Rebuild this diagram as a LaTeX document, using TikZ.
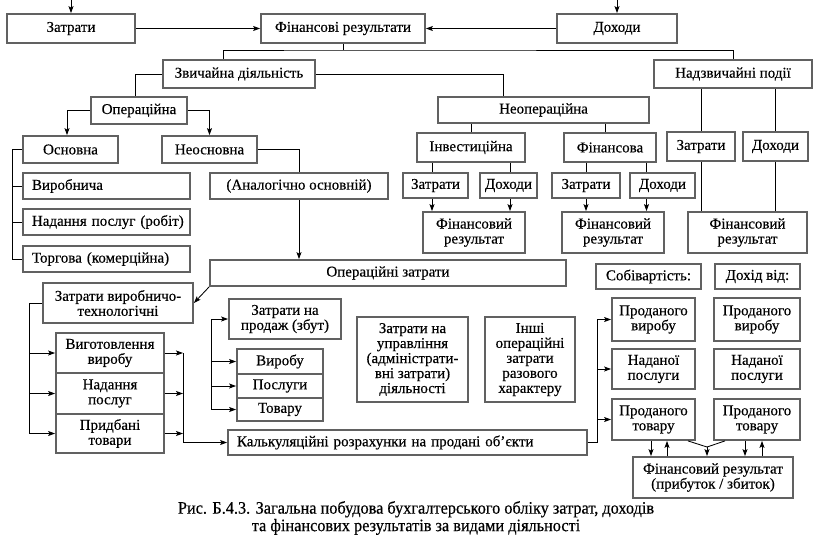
\documentclass[tikz,border=0pt]{standalone}
\usepackage{fontspec}
\setmainfont{Liberation Serif}
\newfontfamily\tms{Liberation Serif}[FakeBold=0.35]
\newfontfamily\tmscap{Liberation Serif}[FakeBold=0.45,FakeStretch=0.93]
\usetikzlibrary{arrows.meta,calc}
\newcommand\fs{\tms\fontsize{15}{15}\selectfont}
\newcommand\bx[7][]{\node[box,minimum width={(#5-#3)*1pt},minimum height={(#6-#4)*1pt},#1] (#2) at ({(#3+#5)/2},{(#4+#6)/2}) {#7};}
\newcommand\lbx[7][]{\node[box,align=left,inner xsep=3pt,text width={(#5-#3-6)*1pt},minimum width={(#5-#3)*1pt},minimum height={(#6-#4)*1pt},#1] (#2) at ({(#3+#5)/2},{(#4+#6)/2}) {\hspace*{6pt}#7};}
\tikzset{
  box/.style={draw=black!62, line width=1.8pt, fill=white, inner sep=0pt, align=center, font=\fs},
  con/.style={line width=0.85pt, draw=black},
  arr/.style={con, -{Stealth[length=7pt,width=5pt,inset=1.5pt]}},
}
\begin{document}
\begin{tikzpicture}[x=1pt,y=-1pt]
\useasboundingbox (0,0) rectangle (816,536);
% boxes
\bx{zt}{7}{14}{135}{43}{Затрати}
\bx{fin}{261}{14}{425}{43}{Фінансові результати}
\bx{dh}{557}{14}{677}{43}{Доходи}
\bx{zv}{163}{60}{315}{88}{Звичайна діяльність}
\bx{nd}{654}{60}{812}{88}{Надзвичайні події}
\bx{op}{91}{97}{187}{124}{Операційна}
\bx{no}{438}{97}{649}{123}{Неопераційна}
\bx{osn}{23}{136}{118}{163}{Основна}
\bx{neo}{162}{136}{257}{163}{Неосновна}
\bx{inv}{417}{133}{525}{162}{Інвестиційна}
\bx{fn}{564}{133}{656}{162}{Фінансова}
\bx{ndz}{667}{132}{735}{161}{Затрати}
\bx{ndd}{743}{132}{808}{161}{Доходи}
\lbx{vyr}{23}{173}{190}{199}{Виробнича}
\bx{an}{210}{173}{388}{199}{(Аналогічно основній)}
\bx{iz}{403}{173}{468}{198}{Затрати}
\bx{id}{480}{173}{537}{198}{Доходи}
\bx{fz}{552}{173}{620}{198}{Затрати}
\bx{fd}{630}{173}{695}{198}{Доходи}
\lbx{nad}{23}{209}{190}{235}{Надання послуг (робіт)}
\bx{ifr}{423}{212}{525}{253}{Фінансовий\\результат}
\bx{ffr}{562}{212}{664}{253}{Фінансовий\\результат}
\bx{nfr}{688}{212}{807}{253}{Фінансовий\\результат}
\lbx{tor}{23}{246}{190}{272}{Торгова (комерційна)}
\bx{oz}{210}{260}{566}{286}{Операційні затрати}
\bx{sob}{596}{264}{701}{289}{Собівартість:}
\bx{dv}{715}{264}{800}{289}{Дохід від:}
\bx{zvt}{43}{283}{193}{323}{Затрати виробничо-\\технологічні}
\bx{zp}{229}{299}{341}{339}{Затрати на\\продаж (збут)}
\bx{pv}{612}{298}{695}{341}{Проданого\\виробу}
\bx{pv2}{714}{298}{800}{341}{Проданого\\виробу}
\bx{zu}{357}{317}{468}{402}{Затрати на\\управління\\(адміністрати-\\вні затрати)\\діяльності}
\bx{io}{485}{317}{575}{402}{Інші\\операційні\\затрати\\разового\\характеру}
\bx{vyg}{56}{333}{164}{373}{Виготовлення\\виробу}
\bx{vb}{237}{349}{323}{374}{Виробу}
\bx{np}{612}{349}{695}{389}{Наданої\\послуги}
\bx{np2}{714}{349}{800}{389}{Наданої\\послуги}
\bx{nps}{56}{373}{164}{414}{Надання\\послуг}
\bx{ps}{237}{374}{323}{398}{Послуги}
\bx{tv}{237}{398}{323}{421}{Товару}
\bx{pt}{612}{399}{695}{440}{Проданого\\товару}
\bx{pt2}{714}{399}{800}{440}{Проданого\\товару}
\bx{prt}{56}{414}{164}{453}{Придбані\\товари}
\lbx{kal}{228}{430}{587}{455}{Калькуляційні розрахунки на продані об’єкти}
\bx{fr}{633}{457}{793}{498}{Фінансовий результат\\(прибуток / збиток)}
\node[font=\tmscap\fontsize{17.5}{17.5}\selectfont, align=center, inner sep=0pt] (cap) at (416,518)
  {Рис. Б.4.3. Загальна побудова бухгалтерського обліку затрат, доходів\\та фінансових результатів за видами діяльності};
% coordinates
\coordinate (ztin) at (71,0);
\coordinate (dhin) at (617,0);
\coordinate (b1) at (343,50);
\coordinate (lb) at (12,0);
\coordinate (lb2) at (29,0);
\coordinate (rb) at (183,0);
\coordinate (mb) at (211,0);
\coordinate (kb) at (597,0);
\coordinate (vj) at (707,447);
% connectors
\draw[arr] (ztin) -- (zt.north);
\draw[arr] (dhin) -- (dh.north);
\draw[arr] (zt.east) -- (fin.west);
\draw[arr] (dh.west) -- (fin.east);
\draw[con] (fin.south) -- (b1);
\draw[con] ([xshift=-16pt]zv.north) |- (b1) -| (nd.north);
\draw[con] (zv.east) -| ([xshift=-40.5pt]no.north);
\draw[con] (zv.west) -| ([xshift=-4pt]op.north);
\draw[arr] (op.west) -| ([xshift=-3.5pt]osn.north);
\draw[arr] (op.east) -| (neo.north);
\draw[con] (osn.west) -- (osn.west -| lb) |- (tor.west);
\draw[con] (vyr.west -| lb) -- (vyr.west);
\draw[con] (nad.west -| lb) -- (nad.west);
\draw[con] (neo.east) -| (an.north);
\draw[arr] (an.south) -- (an.south |- oz.north);
\draw[arr] (oz.south west) -- (zvt.east);
\draw[arr] (zvt.west) -- (zvt.west -| lb2) |- (prt.west);
\draw[arr] (vyg.west -| lb2) -- (vyg.west);
\draw[arr] (nps.west -| lb2) -- (nps.west);
\draw[arr] (vyg.east) -- (vyg.east -| rb);
\draw[arr] (nps.east) -- (nps.east -| rb);
\draw[arr] (prt.east) -- (prt.east -| rb);
\draw[arr] (vyg.east -| rb) |- (kal.west);
\draw[arr] (tv.west -| mb) |- (zp.west);
\draw[arr] (vb.west -| mb) -- (vb.west);
\draw[arr] (ps.west -| mb) -- (ps.west);
\draw[arr] (tv.west -| mb) -- (tv.west);
\draw[arr] (kal.east) -- (kal.east -| kb) |- (pv.west);
\draw[arr] (np.west -| kb) -- (np.west);
\draw[arr] (pt.west -| kb) -- (pt.west);
\draw[con] (inv.north) -- (inv.north |- no.south);
\draw[con] ([xshift=-5pt]fn.north) -- ([xshift=-5pt]fn.north |- no.south);
\draw[con] (ndz.north |- nd.south) -- (ndz.north);
\draw[con] (ndd.north |- nd.south) -- (ndd.north);
\draw[con] (ndz.south) -- (ndz.south |- nfr.north);
\draw[con] (ndd.south) -- (ndd.south |- nfr.north);
\draw[con] ([xshift=-3.5pt]iz.north |- inv.south) -- ([xshift=-3.5pt]iz.north);
\draw[con] ([xshift=1.5pt]id.north |- inv.south) -- ([xshift=1.5pt]id.north);
\draw[arr] ([xshift=-3.5pt]iz.south) -- ([xshift=-3.5pt]iz.south |- ifr.north);
\draw[arr] ([xshift=1.5pt]id.south) -- ([xshift=1.5pt]id.south |- ifr.north);
\draw[con] (fz.north |- fn.south) -- (fz.north);
\draw[con] ([xshift=-16pt]fd.north |- fn.south) -- ([xshift=-16pt]fd.north);
\draw[arr] (fz.south) -- (fz.south |- ffr.north);
\draw[arr] ([xshift=-16pt]fd.south) -- ([xshift=-16pt]fd.south |- ffr.north);
\draw[arr] ([xshift=-2.5pt]pt.south) -- ([xshift=-2.5pt]pt.south |- fr.north);
\draw[arr] ([xshift=13.5pt]pt.south |- fr.north) -- ([xshift=13.5pt]pt.south);
\draw[arr] ([xshift=-12pt]pt2.south) -- ([xshift=-12pt]pt2.south |- fr.north);
\draw[arr] ([xshift=5pt]pt2.south |- fr.north) -- ([xshift=5pt]pt2.south);
\draw[con] ([xshift=34.5pt]pt.south) -- (vj) -- ([xshift=-32pt]pt2.south);
\draw[arr] (vj) -- (vj |- fr.north);
\end{tikzpicture}
\end{document}
